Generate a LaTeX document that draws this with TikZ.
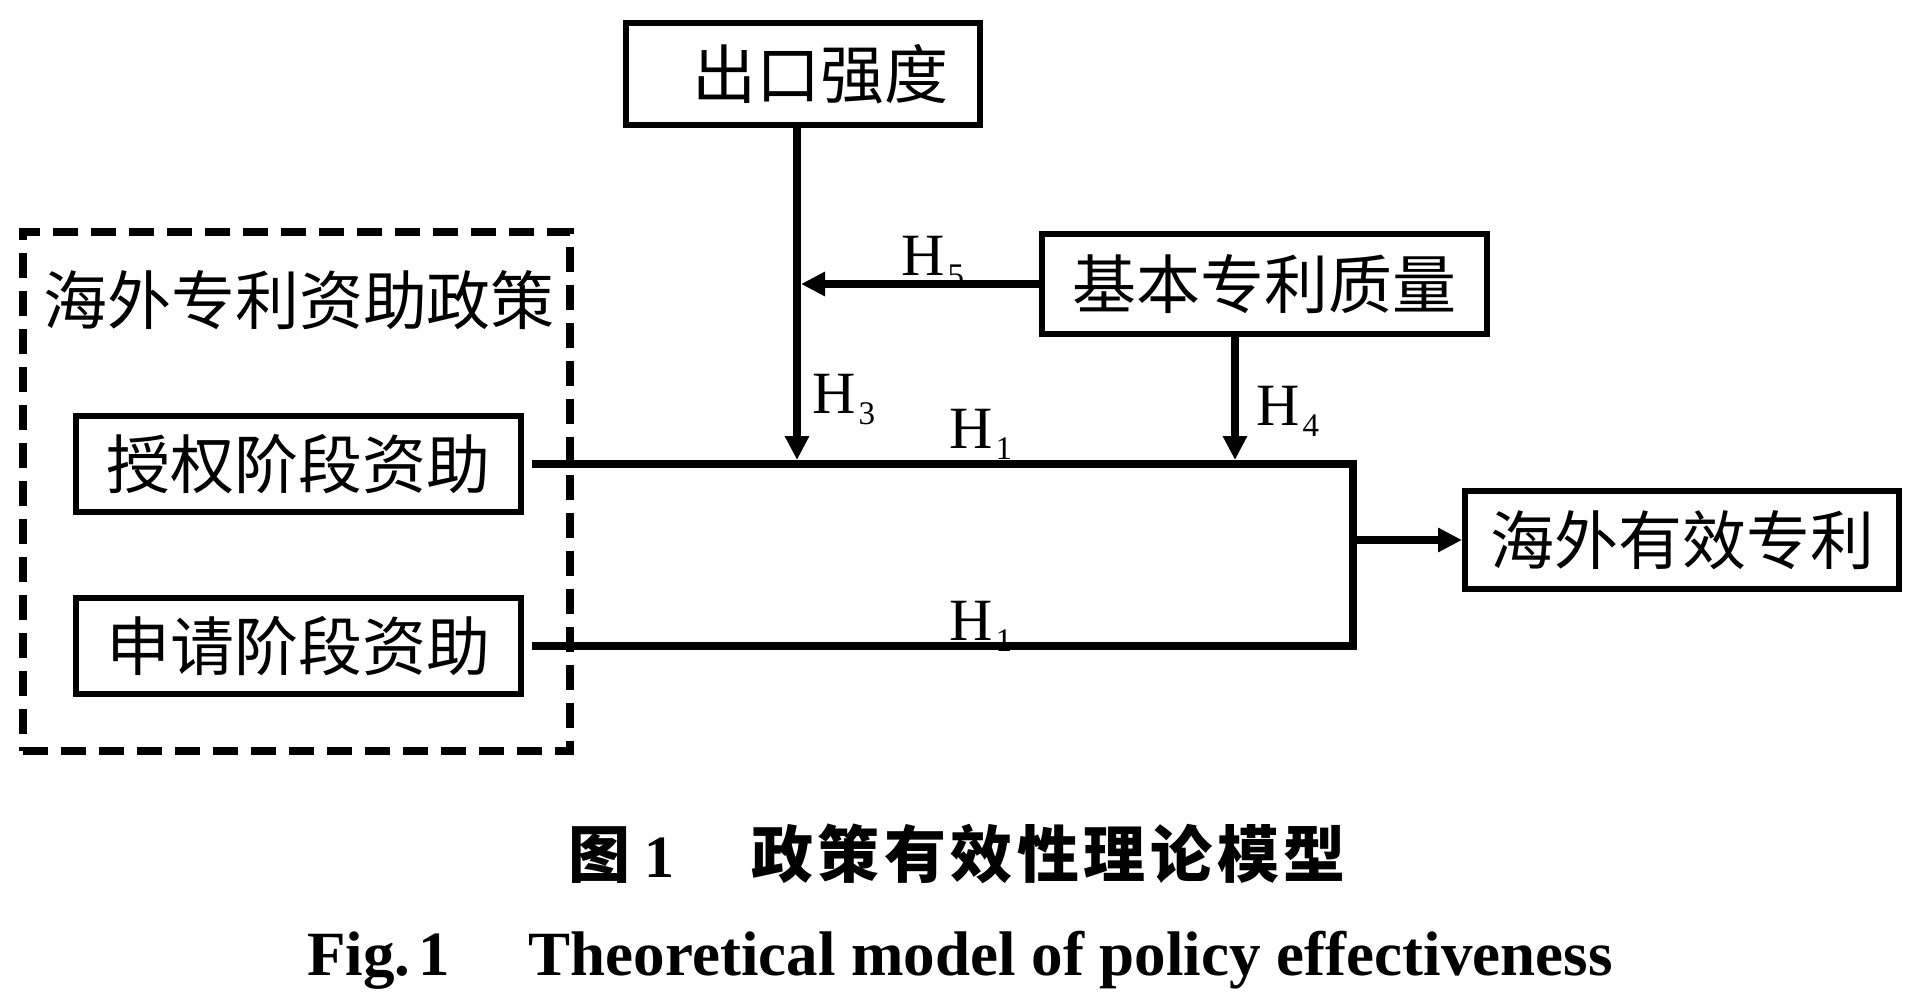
\documentclass[tikz,border=0pt]{standalone}
\usepackage{fontspec}
\usepackage{graphicx}
\setmainfont{Liberation Serif}
\newfontfamily\cjk{Noto Sans CJK SC}
\usetikzlibrary{arrows.meta}
\newcommand\hyp[1]{H\hspace{3pt}\raisebox{-11pt}{\fontsize{33}{33}\selectfont #1}}
\newcommand\cgap{\hspace{4.5pt}}
\begin{document}
\begin{tikzpicture}[x=1pt,y=-1pt,
  box/.style={draw, line width=6pt, inner sep=0pt, font=\cjk\fontsize{64}{64}\selectfont},
  conn/.style={line width=8pt},
  arr/.style={conn, -{Triangle[length=24pt,width=23pt]}},
  hlab/.style={anchor=base west, inner sep=0pt, font=\fontsize{60}{60}\selectfont},
  dashbox/.style={draw, line width=8pt, dash pattern=on 25pt off 13pt, inner sep=0pt}]
\useasboundingbox (0,0) rectangle (1912,1001);

% dashed policy group
\node[dashbox, minimum width=547pt, minimum height=519pt] (pol) at (296.5,491.5) {};
\node[inner sep=0pt, font=\cjk\fontsize{64}{64}\selectfont] (poltitle) at (299,300) {海外专利资助政策};

% boxes
\node[box, minimum width=354pt, minimum height=102pt] (out) at (803,74) {\hspace{34pt}出口强度};
\node[box, minimum width=445pt, minimum height=100pt] (jb) at (1264.5,284) {基本专利质量};
\node[box, minimum width=434pt, minimum height=98pt] (hw) at (1682,540) {海外有效专利};
\node[box, minimum width=445pt, minimum height=96pt] (sq) at (298.5,464) {授权阶段资助};
\node[box, minimum width=445pt, minimum height=96pt] (sp) at (298.5,646) {申请阶段资助};

% junction coordinates
\coordinate (jt) at (1353,464);
\coordinate (jl) at (1353,646);
\coordinate (jm) at (1353,540);
\coordinate (h3e) at (797,460);
\coordinate (h4e) at (1235,460);
\coordinate (h5e) at (801,284);

% connectors
\draw[conn] ([xshift=8pt]sq.east) -- (jt) -- (jl) -- ([xshift=8pt]sp.east);
\draw[arr] (jm) -- (hw.west);
\draw[arr] (out.south -| h3e) -- (h3e);
\draw[arr] (jb.west) -- (h5e);
\draw[arr] (jb.south -| h4e) -- (h4e);

% hypothesis labels
\node[hlab] (l5) at (901,275) {\hyp{5}};
\node[hlab] (l3) at (812,413) {\hyp{3}};
\node[hlab] (l1a) at (949,448) {\hyp{1}};
\node[hlab] (l4) at (1256,425) {\hyp{4}};
\node[hlab] (l1b) at (949,640) {\hyp{1}};

% captions
\node[inner sep=0pt] (cap1) at (957,854) {\cjk\bfseries\fontsize{62}{62}\selectfont 图\hspace{14pt}{\rmfamily\bfseries\fontsize{60}{60}\selectfont 1}\hspace{77pt}政\cgap 策\cgap 有\cgap 效\cgap 性\cgap 理\cgap 论\cgap 模\cgap 型};
\node[anchor=base west, inner sep=0pt, font=\bfseries\fontsize{63}{63}\selectfont] (cap2) at (307,975) {Fig.\hspace{8pt}1\hspace{79pt}Theoretical model of policy effectiveness};
\end{tikzpicture}
\end{document}
